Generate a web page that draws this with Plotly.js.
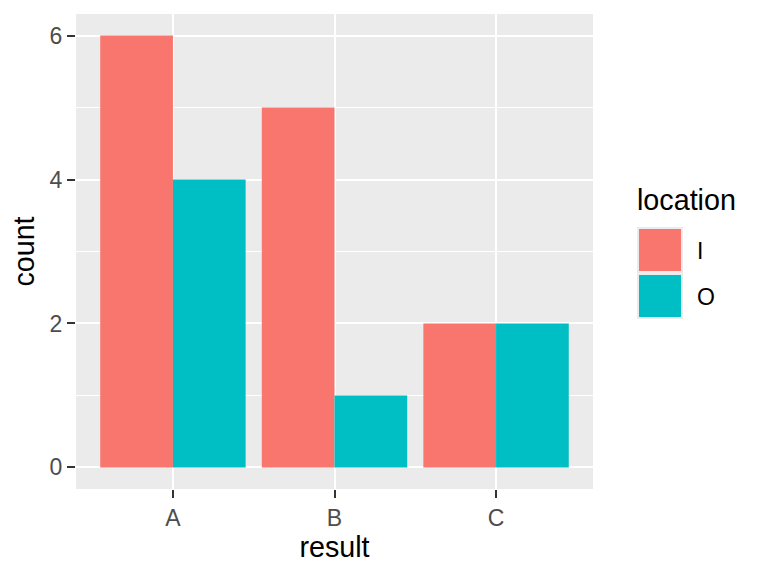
<!DOCTYPE html>
<html>
<head>
<meta charset="utf-8">
<script src="https://cdn.plot.ly/plotly-3.0.1.min.js"></script>
<style>body{margin:0;padding:0;background:#fff;} #chart{width:768px;height:576px;}</style>
</head>
<body>
<div id="chart"></div>
<script>
const categories = ["A", "B", "C"];
const seriesNames = ["I", "O"];
const countsI = [6, 5, 2];
const countsO = [4, 1, 2];
const colors = ["#F8766D", "#00BFC4"];
const yTicks = [0, 2, 4, 6];
const legendTitle = "location";
const xTitle = "result";
const yTitle = "count";

const L = 76, R = 593, T = 14, B = 489;
const px = x => (x - L) / (R - L);
const py = y => (B - y) / (B - T);
const TITLE_SIZE = 28.7, TICK_SIZE = 23;

const traces = [countsI, countsO].map((vals, i) => ({
  type: "bar",
  x: categories,
  y: vals,
  name: seriesNames[i],
  marker: {color: colors[i], line: {width: 0}},
  hoverinfo: "none",
  showlegend: false
}));

const shapes = [
  {type: "rect", xref: "paper", yref: "paper", x0: px(637), x1: px(683), y0: py(319), y1: py(227), fillcolor: "#EBEBEB", line: {width: 0}, layer: "above"},
  {type: "rect", xref: "paper", yref: "paper", x0: px(639), x1: px(681), y0: py(271), y1: py(229), fillcolor: colors[0], line: {width: 0}, layer: "above"},
  {type: "rect", xref: "paper", yref: "paper", x0: px(639), x1: px(681), y0: py(317), y1: py(275), fillcolor: colors[1], line: {width: 0}, layer: "above"}
];

const annotations = [
  {text: legendTitle, xref: "paper", yref: "paper", x: px(635), y: py(200), xanchor: "left", yanchor: "middle", showarrow: false, font: {size: TITLE_SIZE, color: "#000"}},
  {text: seriesNames[0], xref: "paper", yref: "paper", x: px(695), y: py(251), xanchor: "left", yanchor: "middle", showarrow: false, font: {size: TICK_SIZE, color: "#000"}},
  {text: seriesNames[1], xref: "paper", yref: "paper", x: px(695), y: py(297), xanchor: "left", yanchor: "middle", showarrow: false, font: {size: TICK_SIZE, color: "#000"}}
];

const layout = {
  width: 768, height: 576,
  margin: {l: L, r: 768 - R, t: T, b: 576 - B, pad: 0},
  paper_bgcolor: "#FFFFFF",
  plot_bgcolor: "#EBEBEB",
  font: {family: "Liberation Sans, Arial, sans-serif", color: "#000"},
  barmode: "group",
  bargap: 0.1,
  bargroupgap: 0,
  showlegend: false,
  hovermode: false,
  xaxis: {
    type: "category",
    range: [-0.6, 2.6],
    showgrid: true, gridcolor: "#FFFFFF", gridwidth: 2,
    zeroline: false, showline: false,
    ticks: "outside", ticklen: 8, tickwidth: 2, tickcolor: "#333333",
    tickfont: {size: TICK_SIZE, color: "#4D4D4D"},
    title: {text: xTitle, font: {size: TITLE_SIZE, color: "#000"}, standoff: 4},
    fixedrange: true
  },
  yaxis: {
    range: [-0.3, 6.3],
    tickvals: yTicks,
    showgrid: true, gridcolor: "#FFFFFF", gridwidth: 2,
    minor: {dtick: 1, tick0: 1, showgrid: true, gridcolor: "#FFFFFF", gridwidth: 1, ticks: ""},
    zeroline: false, showline: false,
    ticks: "outside", ticklen: 8, tickwidth: 2, tickcolor: "#333333",
    tickfont: {size: TICK_SIZE, color: "#4D4D4D"},
    title: {text: yTitle, font: {size: TITLE_SIZE, color: "#000"}, standoff: 6},
    fixedrange: true
  },
  shapes: shapes,
  annotations: annotations
};

Plotly.newPlot("chart", traces, layout, {displayModeBar: false, staticPlot: true});
</script>
</body>
</html>
